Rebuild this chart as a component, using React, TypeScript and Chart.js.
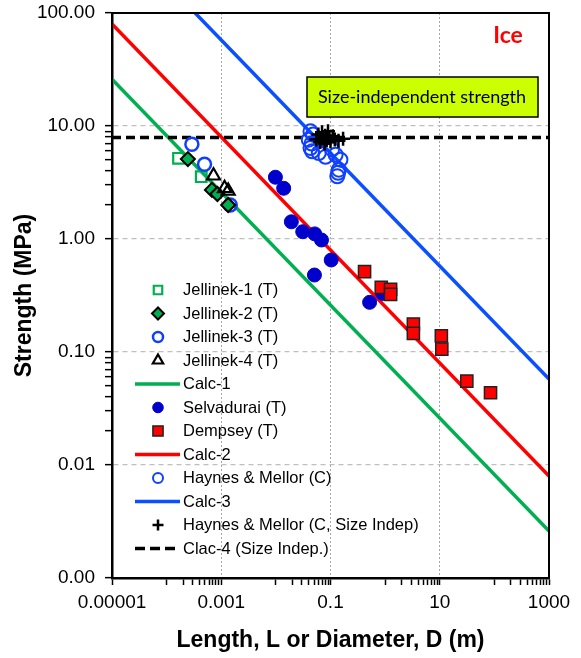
import React, { useEffect, useRef } from 'react';
import { Chart, registerables } from 'chart.js';
import { drawPoint } from 'chart.js/helpers';

Chart.register(...registerables);

const FONT = "'Liberation Sans', Arial, sans-serif";

// Axis ticks
const xTickValues = [0.00001, 0.001, 0.1, 10, 1000];
const xTickLabels = ['0.00001', '0.001', '0.1', '10', '1000'];
const xMinorTicks = [
  0.0001, 0.0002, 0.0003, 0.0004, 0.0005, 0.0006, 0.0007, 0.0008, 0.0009,
  0.01, 0.02, 0.03, 0.04, 0.05, 0.06, 0.07, 0.08, 0.09,
  1, 2, 3, 4, 5, 6, 7, 8, 9,
  100, 200, 300, 400, 500, 600, 700, 800, 900,
];
const yTickValues = [0.001, 0.01, 0.1, 1, 10, 100];
const yTickLabels = ['0.00', '0.01', '0.10', '1.00', '10.00', '100.00'];
const yMinorTicks = [0.02, 0.03, 0.04, 0.05, 0.06, 0.07, 0.08, 0.09, 2, 3, 4, 5, 6, 7, 8, 9];

// Series
const jellinek1 = [
  { x: 0.000165, y: 5.18 },
  { x: 0.00043, y: 3.56 },
];
const jellinek2 = [
  { x: 0.000245, y: 5.1 },
  { x: 0.000675, y: 2.72 },
  { x: 0.00085, y: 2.5 },
  { x: 0.00134, y: 2.0 },
];
const jellinek3 = [
  { x: 0.00029, y: 6.9 },
  { x: 0.000494, y: 4.58 },
  { x: 0.00146, y: 2.0 },
];
const jellinek4 = [
  { x: 0.000722, y: 3.63 },
  { x: 0.00115, y: 2.81 },
  { x: 0.00134, y: 2.66 },
];
const calc1 = [
  { x: 0.00001, y: 26 },
  { x: 1000, y: 0.0026 },
];
const selvadurai = [
  { x: 0.0098, y: 3.52 },
  { x: 0.0139, y: 2.81 },
  { x: 0.0192, y: 1.42 },
  { x: 0.031, y: 1.16 },
  { x: 0.0515, y: 1.11 },
  { x: 0.0684, y: 0.98 },
  { x: 0.103, y: 0.652 },
  { x: 0.0508, y: 0.48 },
  { x: 0.52, y: 0.275 },
  { x: 0.9, y: 0.33 },
];
const dempsey = [
  { x: 0.42, y: 0.514 },
  { x: 0.85, y: 0.373 },
  { x: 1.26, y: 0.359 },
  { x: 1.26, y: 0.324 },
  { x: 3.29, y: 0.177 },
  { x: 3.29, y: 0.146 },
  { x: 10.7, y: 0.139 },
  { x: 10.9, y: 0.106 },
  { x: 31.3, y: 0.0553 },
  { x: 85, y: 0.0436 },
];
const calc2 = [
  { x: 0.00001, y: 80 },
  { x: 1000, y: 0.008 },
];
const haynesC = [
  { x: 0.043, y: 8.97 },
  { x: 0.048, y: 8.4 },
  { x: 0.04, y: 7.57 },
  { x: 0.045, y: 7.0 },
  { x: 0.043, y: 6.38 },
  { x: 0.046, y: 5.97 },
  { x: 0.061, y: 5.77 },
  { x: 0.081, y: 5.34 },
  { x: 0.107, y: 6.2 },
  { x: 0.124, y: 5.57 },
  { x: 0.152, y: 5.04 },
  { x: 0.142, y: 4.11 },
  { x: 0.138, y: 3.85 },
  { x: 0.133, y: 3.59 },
];
const calc3 = [
  { x: 0.000333, y: 100 },
  { x: 1000, y: 0.0577 },
];
const haynesSI = [
  { x: 0.055, y: 7.6 },
  { x: 0.06, y: 8.4 },
  { x: 0.065, y: 7.2 },
  { x: 0.07, y: 8.8 },
  { x: 0.072, y: 7.8 },
  { x: 0.078, y: 7.0 },
  { x: 0.08, y: 8.2 },
  { x: 0.085, y: 7.5 },
  { x: 0.09, y: 9.0 },
  { x: 0.095, y: 7.9 },
  { x: 0.1, y: 7.3 },
  { x: 0.11, y: 8.1 },
  { x: 0.12, y: 7.6 },
  { x: 0.14, y: 7.4 },
  { x: 0.17, y: 7.7 },
];
const calc4 = [
  { x: 0.00001, y: 7.9 },
  { x: 1000, y: 7.9 },
];

const GREEN = '#00B050';
const RED = '#FF0000';
const BLUE_LINE = '#0A50FF';
const BLUE_OPEN = '#1040FF';
const NAVY = '#0000CC';

type Entry = {
  label: string;
  data: { x: number; y: number }[];
  line?: { color: string; width: number; dash?: number[]; legendDash?: number[] };
  point?: { style: string; radius: number; fill: string; stroke: string; width: number; legendRadius: number };
  order: number;
};

const entries: Entry[] = [
  { label: 'Jellinek-1 (T)', data: jellinek1, point: { style: 'rect', radius: 7.5, fill: 'rgba(0,0,0,0)', stroke: GREEN, width: 2.2, legendRadius: 6 }, order: 6 },
  { label: 'Jellinek-2 (T)', data: jellinek2, point: { style: 'rectRot', radius: 7, fill: GREEN, stroke: '#000', width: 2, legendRadius: 6 }, order: 4 },
  { label: 'Jellinek-3 (T)', data: jellinek3, point: { style: 'circle', radius: 6.5, fill: 'rgba(0,0,0,0)', stroke: BLUE_OPEN, width: 2.5, legendRadius: 5 }, order: 5 },
  { label: 'Jellinek-4 (T)', data: jellinek4, point: { style: 'triangle', radius: 7.5, fill: 'rgba(0,0,0,0)', stroke: '#000', width: 2.2, legendRadius: 6 }, order: 3 },
  { label: 'Calc-1', data: calc1, line: { color: GREEN, width: 3.5 }, order: 20 },
  { label: 'Selvadurai (T)', data: selvadurai, point: { style: 'circle', radius: 7, fill: NAVY, stroke: NAVY, width: 1, legendRadius: 5.3 }, order: 8 },
  { label: 'Dempsey (T)', data: dempsey, point: { style: 'rect', radius: 8.6, fill: RED, stroke: '#222', width: 1.5, legendRadius: 7.2 }, order: 7 },
  { label: 'Calc-2', data: calc2, line: { color: RED, width: 3.5 }, order: 21 },
  { label: 'Haynes & Mellor (C)', data: haynesC, point: { style: 'circle', radius: 7, fill: 'rgba(0,0,0,0)', stroke: BLUE_OPEN, width: 2, legendRadius: 5 }, order: 2 },
  { label: 'Calc-3', data: calc3, line: { color: BLUE_LINE, width: 3.5 }, order: 22 },
  { label: 'Haynes & Mellor (C, Size Indep)', data: haynesSI, point: { style: 'cross', radius: 7, fill: 'rgba(0,0,0,0)', stroke: '#000', width: 2.5, legendRadius: 5.5 }, order: 1 },
  { label: 'Clac-4 (Size Indep.)', data: calc4, line: { color: '#000', width: 3.5, dash: [9, 5], legendDash: [10, 5] }, order: 19 },
];

const near = (a: number, b: number) => Math.abs(a - b) / b < 1e-6;
const isXMajor = (v: number) => xTickValues.some((t) => near(v, t));
const isYMajor = (v: number) => yTickValues.some((t) => near(v, t));

const framePlugin = {
  id: 'frameAndNotes',
  afterDatasetsDraw(chart: any) {
    const { ctx, chartArea } = chart;
    ctx.save();
    // Size-independent box
    ctx.fillStyle = '#CCFF00';
    ctx.strokeStyle = '#000';
    ctx.lineWidth = 1.5;
    ctx.fillRect(307, 77, 231, 40);
    ctx.strokeRect(307, 77, 231, 40);
    ctx.fillStyle = '#000';
    ctx.font = "18px Lato, 'Open Sans', sans-serif";
    ctx.textAlign = 'center';
    ctx.textBaseline = 'middle';
    ctx.fillText('Size-independent strength', 422, 97);
    // Ice
    ctx.fillStyle = '#FF0000';
    ctx.font = "bold 23px Lato, 'Open Sans', sans-serif";
    ctx.fillText('Ice', 508, 36);
    // frame
    ctx.strokeStyle = '#000';
    ctx.lineWidth = 2;
    ctx.strokeRect(chartArea.left, chartArea.top, chartArea.right - chartArea.left, chartArea.bottom - chartArea.top);
    ctx.restore();
  },
  afterDraw(chart: any) {
    const { ctx } = chart;
    ctx.save();
    const symX = 158;
    const textX = 183;
    const y0 = 290;
    const step = 23.5;
    entries.forEach((e, i) => {
      const y = y0 + i * step;
      if (e.line) {
        ctx.beginPath();
        ctx.strokeStyle = e.line.color;
        ctx.lineWidth = e.line.width;
        ctx.setLineDash(e.line.legendDash || []);
        ctx.moveTo(135, y);
        ctx.lineTo(180, y);
        ctx.stroke();
        ctx.setLineDash([]);
      } else if (e.point) {
        ctx.fillStyle = e.point.fill;
        ctx.strokeStyle = e.point.stroke;
        ctx.lineWidth = e.point.width;
        drawPoint(ctx, { pointStyle: e.point.style as any, radius: e.point.legendRadius, rotation: 0, borderWidth: e.point.width }, symX, y);
      }
      ctx.fillStyle = '#000';
      ctx.font = `16.5px ${FONT}`;
      ctx.textAlign = 'left';
      ctx.textBaseline = 'middle';
      ctx.fillText(e.label, textX, y + 0.5);
    });
    ctx.restore();
  },
};

export default function App() {
  const canvasRef = useRef<HTMLCanvasElement | null>(null);

  useEffect(() => {
    const canvas = canvasRef.current;
    if (!canvas) return;
    const datasets = entries.map((e) => {
      if (e.line) {
        return {
          label: e.label,
          data: e.data,
          showLine: true,
          borderColor: e.line.color,
          borderWidth: e.line.width,
          borderDash: e.line.dash || [],
          pointRadius: 0,
          fill: false,
          order: e.order,
        };
      }
      const p = e.point!;
      return {
        label: e.label,
        data: e.data,
        showLine: false,
        pointStyle: p.style,
        pointRadius: p.radius,
        pointBackgroundColor: p.fill,
        pointBorderColor: p.stroke,
        pointBorderWidth: p.width,
        backgroundColor: p.fill,
        borderColor: p.stroke,
        order: e.order,
      };
    });

    const chart = new Chart(canvas, {
      type: 'scatter',
      data: { datasets: datasets as any },
      plugins: [framePlugin],
      options: {
        responsive: false,
        animation: false,
        devicePixelRatio: 1,
        layout: { padding: { left: 0, right: 32, top: 13, bottom: 0 } },
        plugins: { legend: { display: false }, tooltip: { enabled: false } },
        scales: {
          x: {
            type: 'logarithmic',
            position: 'bottom',
            min: 0.00001,
            max: 1000,
            afterBuildTicks: (scale: any) => {
              scale.ticks = [...xTickValues, ...xMinorTicks]
                .sort((a, b) => a - b)
                .map((v) => ({ value: v, major: false }));
            },
            afterFit: (scale: any) => {
              scale.height = 80;
              scale.paddingLeft = 0;
              scale.paddingRight = 0;
            },
            ticks: {
              autoSkip: false,
              maxRotation: 0,
              minRotation: 0,
              padding: 6,
              color: '#000',
              font: { size: 19, family: FONT },
              callback: (value: any) => {
                const i = xTickValues.findIndex((t) => near(Number(value), t));
                return i >= 0 ? xTickLabels[i] : '';
              },
            },
            grid: {
              color: (ctx: any) => (ctx.tick && isXMajor(ctx.tick.value) ? '#A6A6A6' : 'rgba(0,0,0,0)'),
              lineWidth: 1,
              tickColor: '#000',
              tickLength: 7,
              tickWidth: 1.5,
            },
            border: { display: true, color: '#000', width: 2.5, dash: [2, 2] },
            title: {
              display: true,
              text: 'Length, L or Diameter, D (m)',
              color: '#000',
              font: { size: 23, weight: 'bold', family: FONT },
              padding: { top: 0, bottom: 4 },
            },
          },
          y: {
            type: 'logarithmic',
            position: 'left',
            min: 0.001,
            max: 100,
            afterBuildTicks: (scale: any) => {
              scale.ticks = [...yTickValues, ...yMinorTicks]
                .sort((a, b) => a - b)
                .map((v) => ({ value: v, major: false }));
            },
            afterFit: (scale: any) => {
              scale.width = 112;
              scale.paddingTop = 0;
              scale.paddingBottom = 0;
            },
            ticks: {
              autoSkip: false,
              padding: 10,
              color: '#000',
              font: { size: 19, family: FONT },
              callback: (value: any) => {
                const i = yTickValues.findIndex((t) => near(Number(value), t));
                return i >= 0 ? yTickLabels[i] : '';
              },
            },
            grid: {
              color: (ctx: any) => (ctx.tick && isYMajor(ctx.tick.value) ? '#BFBFBF' : 'rgba(0,0,0,0)'),
              lineWidth: 1.3,
              tickColor: '#000',
              tickLength: 7,
              tickWidth: 1.5,
            },
            border: { display: true, color: '#000', width: 2.5, dash: [5, 4] },
            title: {
              display: true,
              text: 'Strength (MPa)',
              color: '#000',
              font: { size: 23, weight: 'bold', family: FONT },
              padding: { top: 11, bottom: 0 },
            },
          },
        },
      } as any,
    });
    return () => chart.destroy();
  }, []);

  return (
    <div style={{ position: 'absolute', left: 0, top: 0, width: 581, height: 658 }}>
      <canvas ref={canvasRef} width={581} height={658} style={{ display: 'block' }} />
    </div>
  );
}
